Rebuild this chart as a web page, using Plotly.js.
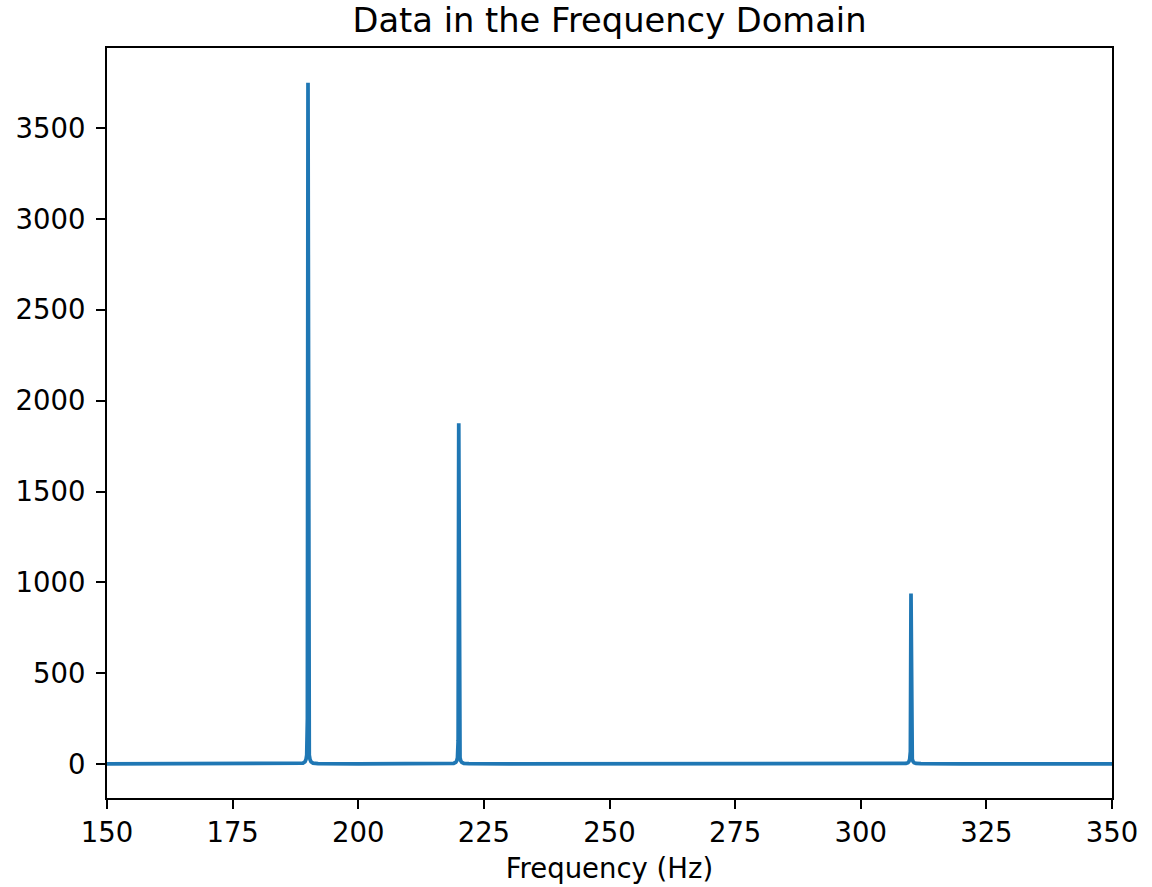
<!DOCTYPE html>
<html>
<head>
<meta charset="utf-8">
<script src="https://cdn.plot.ly/plotly-3.0.1.min.js"></script>
<style>
  html, body { margin: 0; padding: 0; background: #ffffff; }
  #chart { width: 1152px; height: 887px; }
</style>
</head>
<body>
<div id="chart"></div>
<script>
// Magnitude spectrum samples (Hz, |X(f)|)
const frequencyHz = [
  150, 180, 188, 189, 189.4, 189.6, 189.75, 189.88, 190, 190.12, 190.25, 190.4, 190.6, 191, 192, 200,
  210, 218, 219, 219.4, 219.6, 219.75, 219.88, 220, 220.12, 220.25, 220.4, 220.6, 221, 222, 230,
  260, 300, 308, 309, 309.4, 309.6, 309.75, 309.88, 310, 310.12, 310.25, 310.4, 310.6, 311, 312, 320,
  340, 350
];
const magnitude = [
  1, 1, 2, 5, 12, 25, 50, 250, 3750, 250, 50, 25, 12, 5, 2, 1,
  1, 2, 4, 9, 18, 35, 130, 1875, 130, 35, 18, 9, 4, 2, 1,
  1, 1, 2, 3, 7, 14, 28, 70, 938, 70, 28, 14, 7, 3, 2, 1,
  1, 1
];

const xTicks = [150, 175, 200, 225, 250, 275, 300, 325, 350];
const yTicks = [0, 500, 1000, 1500, 2000, 2500, 3000, 3500];

const baseFont = { family: 'DejaVu Sans, sans-serif', size: 27.5, color: '#000000' };

const trace = {
  x: frequencyHz,
  y: magnitude,
  type: 'scatter',
  mode: 'lines',
  line: { color: '#1f77b4', width: 3.75 },
  hoverinfo: 'x+y'
};

const axisCommon = {
  showgrid: false,
  zeroline: false,
  showline: true,
  linecolor: '#000000',
  linewidth: 2,
  mirror: true,
  ticks: 'outside',
  ticklen: 9,
  tickwidth: 2,
  tickcolor: '#000000',
  tickfont: baseFont
};

const layout = {
  width: 1152,
  height: 887,
  margin: { l: 107, r: 40, t: 48, b: 89 },
  paper_bgcolor: '#ffffff',
  plot_bgcolor: '#ffffff',
  font: baseFont,
  showlegend: false,
  title: {
    text: 'Data in the Frequency Domain',
    font: { family: 'DejaVu Sans, sans-serif', size: 33.7, color: '#000000' },
    xref: 'paper',
    x: 0.5,
    xanchor: 'center',
    y: 0.977,
    yanchor: 'middle'
  },
  xaxis: Object.assign({}, axisCommon, {
    range: [150, 350],
    tickmode: 'array',
    tickvals: xTicks,
    ticktext: xTicks.map(String),
    title: { text: 'Frequency (Hz)', font: baseFont, standoff: 12 }
  }),
  yaxis: Object.assign({}, axisCommon, {
    range: [-187, 3941],
    tickmode: 'array',
    tickvals: yTicks,
    ticktext: yTicks.map(String),
    ticklabelstandoff: 5
  })
};

Plotly.newPlot('chart', [trace], layout, { displayModeBar: false, responsive: false });
</script>
</body>
</html>
